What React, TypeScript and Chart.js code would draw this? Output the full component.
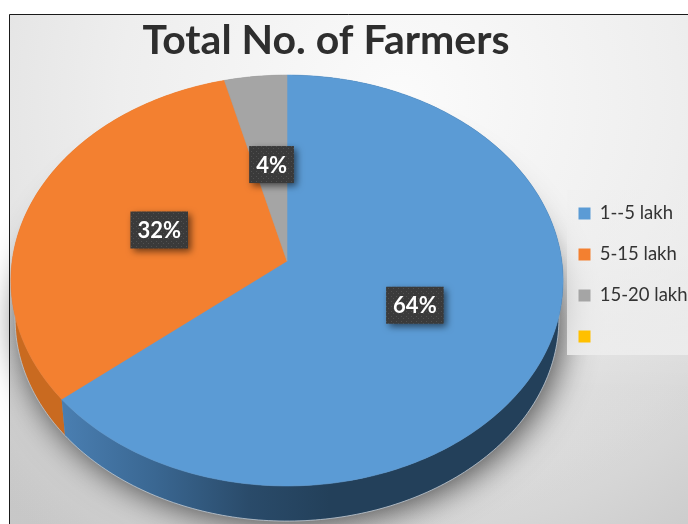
import React, { useEffect, useRef } from "react";
import { Chart, registerables } from "chart.js";

Chart.register(...registerables);

const CHART_TITLE = "Total No. of Farmers";
const categories = ["1--5 lakh", "5-15 lakh", "15-20 lakh", ""];
const shares = [64, 32, 4, 0];
const sliceColors = ["#5b9bd5", "#f38030", "#a5a5a5", "#ffc000"];
const rimColors = ["#23405a", "#c96a20", "#7c7c7c", "#bf9000"];

// Tilted-disc projection of the pie: a unit circle seen in perspective.
const DISC = { cx: 287, cy: 261, rx: 274.8, ry: 203.6, tilt: 0.0949 };
const DEPTH = { dy: 38.5, shrink: 0.985 };

type Pt = [number, number];

function project(angle: number, radius = 1, lower = false): Pt {
  const ux = Math.cos(angle) * radius;
  const uy = Math.sin(angle) * radius;
  const w = 1 - DISC.tilt * uy;
  const s = lower ? DEPTH.shrink : 1;
  return [
    DISC.cx + (s * DISC.rx * ux) / w,
    DISC.cy + (lower ? DEPTH.dy : 0) + (s * DISC.ry * uy) / w,
  ];
}

function arcPoints(start: number, end: number, lower = false): Pt[] {
  const steps = Math.max(2, Math.ceil(((end - start) * 180) / Math.PI));
  const pts: Pt[] = [];
  for (let i = 0; i <= steps; i++) {
    pts.push(project(start + ((end - start) * i) / steps, 1, lower));
  }
  return pts;
}

function trace(ctx: CanvasRenderingContext2D, pts: Pt[]) {
  ctx.beginPath();
  pts.forEach(([x, y], i) => (i ? ctx.lineTo(x, y) : ctx.moveTo(x, y)));
}

function dottedFill(ctx: CanvasRenderingContext2D) {
  const tile = document.createElement("canvas");
  tile.width = 5;
  tile.height = 5;
  const t = tile.getContext("2d")!;
  t.fillStyle = "#3a3a3a";
  t.fillRect(0, 0, 5, 5);
  t.fillStyle = "#505050";
  t.fillRect(1, 1, 1, 1);
  t.fillRect(3, 3, 1, 1);
  return ctx.createPattern(tile, "repeat")!;
}

// Page backdrop, chart frame, disc shadow and the pale legend panel.
const backdropPlugin = {
  id: "backdrop",
  beforeDraw(chart: Chart) {
    const { ctx, width, height } = chart;
    ctx.save();
    ctx.fillStyle = "#ffffff";
    ctx.fillRect(0, 0, width, height);

    const g = ctx.createRadialGradient(400, 100, 0, 400, 100, 560);
    g.addColorStop(0, "#fbfbfb");
    g.addColorStop(0.5, "#eeeeee");
    g.addColorStop(0.7, "#e6e6e6");
    g.addColorStop(1, "#d2d2d2");
    ctx.fillStyle = g;
    ctx.fillRect(9, 14, width - 9, height - 14);

    const dim = ctx.createLinearGradient(0, 250, 0, 524);
    dim.addColorStop(0, "rgba(0,0,0,0)");
    dim.addColorStop(0.5, "rgba(0,0,0,0.05)");
    dim.addColorStop(1, "rgba(0,0,0,0.05)");
    ctx.fillStyle = dim;
    ctx.fillRect(9, 250, width - 9, height - 250);

    ctx.strokeStyle = "#1a1a1a";
    ctx.lineWidth = 1;
    ctx.beginPath();
    ctx.moveTo(9.5, height);
    ctx.lineTo(9.5, 14.5);
    ctx.lineTo(width, 14.5);
    ctx.stroke();

    ctx.save();
    ctx.shadowColor = "rgba(0,0,0,0.7)";
    ctx.shadowBlur = 34;
    ctx.shadowOffsetX = 4;
    ctx.shadowOffsetY = 3;
    ctx.fillStyle = "#999999";
    trace(ctx, arcPoints(0, Math.PI * 2, true));
    ctx.closePath();
    ctx.fill();
    ctx.restore();

    const panel = ctx.createLinearGradient(0, 190, 0, 355);
    panel.addColorStop(0, "rgba(238,238,238,0.3)");
    panel.addColorStop(1, "rgba(238,238,238,0.85)");
    ctx.fillStyle = panel;
    ctx.fillRect(567, 190, width - 567, 165);
    ctx.restore();
  },
};

// Slices are painted from each arc element's own angles through the projection.
const tiltedPiePlugin = {
  id: "tiltedPie",
  beforeDatasetDraw(chart: Chart, args: { index: number; meta: any }) {
    const { ctx } = chart;
    const arcs = args.meta.data as any[];
    const spans = arcs.filter((a) => a.endAngle - a.startAngle > 1e-6);
    const order = [...spans].sort((a, b) => arcs.indexOf(b) - arcs.indexOf(a));

    ctx.save();
    order.forEach((arc) => {
      const i = arcs.indexOf(arc);
      const upper = arcPoints(arc.startAngle, arc.endAngle);
      const lower = arcPoints(arc.startAngle, arc.endAngle, true).reverse();
      trace(ctx, upper.concat(lower));
      ctx.closePath();
      if (i === 0) {
        const rim = ctx.createLinearGradient(60, 0, 330, 0);
        rim.addColorStop(0, "#4a7fb2");
        rim.addColorStop(0.35, "#3a6792");
        rim.addColorStop(0.7, "#2a4b6a");
        rim.addColorStop(1, rimColors[0]);
        ctx.fillStyle = rim;
      } else {
        ctx.fillStyle = rimColors[i];
      }
      ctx.fill();
      ctx.strokeStyle = "rgba(190,200,210,0.8)";
      ctx.lineWidth = 1;
      trace(ctx, lower);
      ctx.stroke();
    });

    spans.forEach((arc) => {
      const edge = arcPoints(arc.startAngle, arc.endAngle);
      trace(ctx, [project(0, 0), ...edge]);
      ctx.closePath();
      ctx.fillStyle = arc.options.backgroundColor;
      ctx.fill();
      ctx.strokeStyle = arc.options.backgroundColor;
      ctx.lineWidth = 0.6;
      ctx.stroke();
    });
    ctx.restore();
    return false;
  },
};

// Dark percentage tags sitting halfway out along each slice.
const valueTagPlugin = {
  id: "valueTags",
  afterDatasetsDraw(chart: Chart) {
    const { ctx } = chart;
    const arcs = chart.getDatasetMeta(0).data as any[];
    const fill = dottedFill(ctx);
    ctx.save();
    ctx.font = "bold 22px Lato";
    ctx.textAlign = "center";
    ctx.textBaseline = "middle";
    arcs.forEach((arc, i) => {
      if (!shares[i]) return;
      const [px, y] = project((arc.startAngle + arc.endAngle) / 2, 0.5);
      const x = px + 1;
      const text = `${shares[i]}%`;
      const w = ctx.measureText(text).width + 14;
      const h = 37;
      ctx.save();
      ctx.shadowColor = "rgba(0,0,0,0.55)";
      ctx.shadowBlur = 7;
      ctx.shadowOffsetX = 3;
      ctx.shadowOffsetY = 3;
      ctx.fillStyle = fill;
      ctx.fillRect(x - w / 2, y - h / 2, w, h);
      ctx.restore();
      ctx.fillStyle = "#ffffff";
      ctx.fillText(text, x, y + 1);
    });
    ctx.restore();
  },
};

// Shifts the title and legend boxes to their resting places after layout.
const placementPlugin = {
  id: "placement",
  afterLayout(chart: any) {
    chart.titleBlock.left -= 18;
    chart.titleBlock.right -= 18;
    const legend = chart.legend;
    const w = legend.width;
    legend.left = 556;
    legend.right = 556 + w;
    legend.top = 25;
    legend.bottom = 525;
  },
};

export default function App() {
  const canvasRef = useRef<HTMLCanvasElement>(null);

  useEffect(() => {
    const chart = new Chart(canvasRef.current!, {
      type: "pie",
      data: {
        labels: categories,
        datasets: [{ data: shares, backgroundColor: sliceColors, borderWidth: 0 }],
      },
      options: {
        responsive: false,
        animation: false,
        plugins: {
          title: {
            display: true,
            text: CHART_TITLE,
            color: "#2e2e2e",
            font: { family: "Lato", size: 41, weight: "bold" },
            padding: { top: 16, bottom: 0 },
          },
          legend: {
            position: "right",
            align: "center",
            labels: {
              color: "#333333",
              font: { family: "Lato", size: 18.5 },
              boxWidth: 12,
              boxHeight: 12,
              padding: 22.5,
            },
          },
          tooltip: { enabled: false },
        },
      } as any,
      plugins: [backdropPlugin, tiltedPiePlugin, valueTagPlugin, placementPlugin] as any,
    });
    return () => chart.destroy();
  }, []);

  return (
    <div style={{ position: "absolute", left: 0, top: 0, width: 688, height: 524, overflow: "hidden" }}>
      <canvas ref={canvasRef} width={688} height={524} style={{ display: "block" }} />
    </div>
  );
}
